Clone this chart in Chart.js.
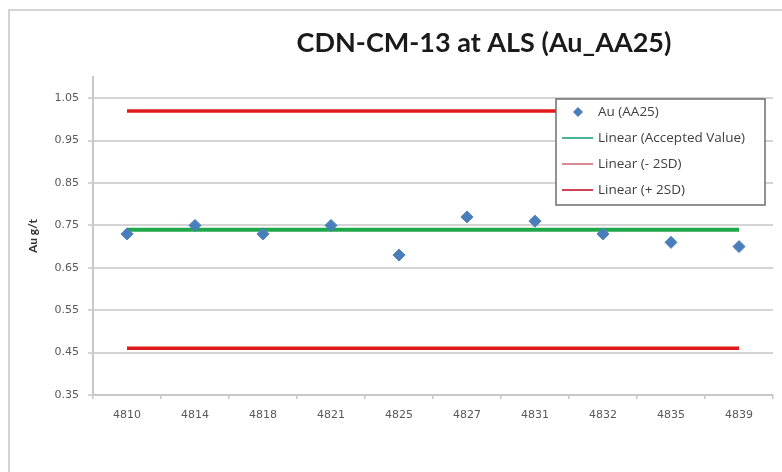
<!DOCTYPE html>
<html>
<head>
<meta charset="utf-8">
<script src="https://cdn.jsdelivr.net/npm/chart.js@4.4.1/dist/chart.umd.min.js"></script>
<style>
  html, body { margin: 0; padding: 0; background: #fff; }
  .chart-outer { position: relative; width: 782px; height: 472px; overflow: hidden; }
  .frame { position: absolute; left: 8px; top: 9px; width: 800px; height: 500px;
           border-left: 2px solid #d4d4d4; border-top: 2px solid #d4d4d4; }
  canvas { position: absolute; left: 0; top: 0; }
</style>
</head>
<body>
<div class="chart-outer">
  <div class="frame"></div>
  <canvas id="chart" width="782" height="472"></canvas>
</div>
<script>
const chartTitle = 'CDN-CM-13 at ALS (Au_AA25)';
const categories = ['4810', '4814', '4818', '4821', '4825', '4827', '4831', '4832', '4835', '4839'];
const auValues = [0.73, 0.75, 0.73, 0.75, 0.68, 0.77, 0.76, 0.73, 0.71, 0.70];
const acceptedValue = 0.74;
const minus2SD = 0.46;
const plus2SD = 1.02;
const yTicks = [0.35, 0.45, 0.55, 0.65, 0.75, 0.85, 0.95, 1.05];

const labelFont = { family: 'DejaVu Sans', size: 11 };
const textColor = '#595959';

// trend lines span the first to the last sample
const endPoints = v => [
  { x: categories[0], y: v },
  { x: categories[categories.length - 1], y: v }
];

const titlePlugin = {
  id: 'sheetTitle',
  afterDraw(chart) {
    const ctx = chart.ctx;
    ctx.save();
    ctx.font = 'bold 27px Lato';
    ctx.fillStyle = '#1a1a1a';
    ctx.textAlign = 'center';
    ctx.textBaseline = 'middle';
    ctx.fillText(chartTitle, 484, 43);
    ctx.restore();
  }
};

const legendPlugin = {
  id: 'boxLegend',
  afterDraw(chart) {
    const ctx = chart.ctx;
    const x = 556, y = 99, w = 209, h = 106;
    ctx.save();
    ctx.fillStyle = '#fff';
    ctx.fillRect(x, y, w, h);
    ctx.strokeStyle = '#6e6e6e';
    ctx.lineWidth = 1.5;
    ctx.strokeRect(x, y, w, h);
    ctx.font = '13.5px "Open Sans"';
    ctx.textBaseline = 'middle';
    chart.data.datasets.forEach((ds, i) => {
      const cy = y + 13 + i * 26;
      if (ds.type === 'scatter') {
        ctx.fillStyle = ds.backgroundColor;
        ctx.beginPath();
        ctx.moveTo(578, cy - 5);
        ctx.lineTo(583, cy);
        ctx.lineTo(578, cy + 5);
        ctx.lineTo(573, cy);
        ctx.closePath();
        ctx.fill();
      } else {
        ctx.strokeStyle = ds.legendColor;
        ctx.lineWidth = 2;
        ctx.beginPath();
        ctx.moveTo(562, cy);
        ctx.lineTo(593, cy);
        ctx.stroke();
      }
      ctx.fillStyle = '#404040';
      ctx.fillText(ds.label, 598, cy);
    });
    ctx.restore();
  }
};

new Chart(document.getElementById('chart'), {
  data: {
    labels: categories,
    datasets: [
      {
        type: 'scatter',
        label: 'Au (AA25)',
        data: auValues,
        backgroundColor: '#4a7ebb',
        borderColor: '#4a7ebb',
        pointStyle: 'rectRot',
        pointRadius: 6,
        order: 0
      },
      {
        type: 'line',
        label: 'Linear (Accepted Value)',
        data: endPoints(acceptedValue),
        borderColor: '#1fa84a',
        legendColor: '#4bb39a',
        borderWidth: 4,
        pointRadius: 0,
        order: 1
      },
      {
        type: 'line',
        label: 'Linear (- 2SD)',
        data: endPoints(minus2SD),
        borderColor: '#e01a1a',
        legendColor: '#d98a95',
        borderWidth: 3.5,
        pointRadius: 0,
        order: 2
      },
      {
        type: 'line',
        label: 'Linear (+ 2SD)',
        data: endPoints(plus2SD),
        borderColor: '#e01a1a',
        legendColor: '#cc4455',
        borderWidth: 3.5,
        pointRadius: 0,
        order: 3
      }
    ]
  },
  options: {
    responsive: false,
    animation: false,
    layout: { padding: { left: 20, top: 77, right: 9, bottom: 37 } },
    plugins: {
      legend: { display: false },
      title: { display: false },
      tooltip: { enabled: false }
    },
    scales: {
      x: {
        type: 'category',
        offset: true,
        grid: { offset: true, drawOnChartArea: false, tickLength: 4, color: '#c8c8c8', lineWidth: 1.5 },
        border: { color: '#c8c8c8', width: 2 },
        ticks: { font: labelFont, color: textColor, padding: 10, maxRotation: 0 },
        afterFit: s => { s.height = 40; }
      },
      y: {
        min: 0.35,
        max: 1.1,
        afterBuildTicks: s => { s.ticks = yTicks.map(v => ({ value: v })); },
        grid: { color: '#d4d4d4', lineWidth: 2, tickLength: 5 },
        border: { color: '#c8c8c8', width: 2 },
        ticks: { font: labelFont, color: textColor, padding: 9, callback: v => v.toFixed(2) },
        title: { display: true, text: 'Au g/t', font: { family: 'Lato', size: 12, weight: 'bold' }, color: '#333', padding: { top: 6, bottom: 0 } },
        afterFit: s => { s.width = 73; }
      }
    }
  },
  plugins: [titlePlugin, legendPlugin]
});
</script>
</body>
</html>
